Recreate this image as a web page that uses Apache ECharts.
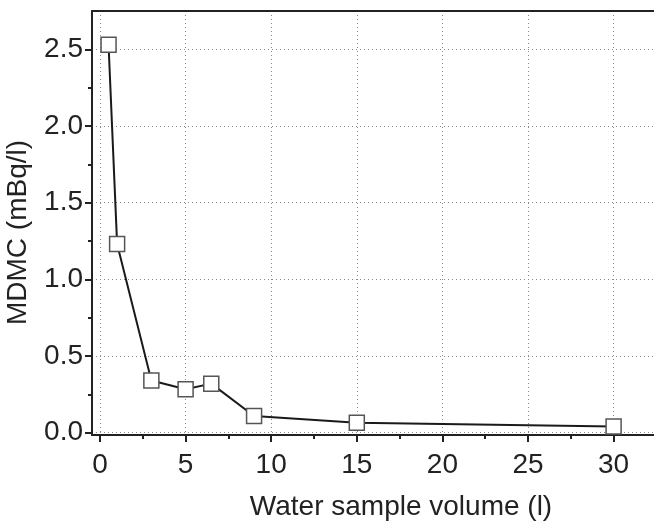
<!DOCTYPE html>
<html>
<head>
<meta charset="utf-8">
<script src="https://cdn.jsdelivr.net/npm/echarts@6/dist/echarts.min.js"></script>
<style>
  html, body { margin: 0; padding: 0; background: #fff; }
  #chart { width: 654px; height: 524px; }
</style>
</head>
<body>
<div id="chart"></div>
<script>
// sample volume (l) and minimum detectable MDMC (mBq/l)
const volumes = [0.5, 1, 3, 5, 6.5, 9, 15, 30];
const mdmc = [2.53, 1.23, 0.34, 0.283, 0.32, 0.109, 0.065, 0.04];

const xTicks = [0, 5, 10, 15, 20, 25, 30];
const xMinorTicks = [2.5, 7.5, 12.5, 17.5, 22.5, 27.5];
const yTicks = [0, 0.5, 1.0, 1.5, 2.0, 2.5];
const yMinorTicks = [0.25, 0.75, 1.25, 1.75, 2.25];

const font = 'Liberation Sans';
const ink = '#222';

const chart = echarts.init(document.getElementById('chart'));

const xRange = { min: -0.467, max: 32.36 };
const yRange = { min: -0.015, max: 2.75 };

const option = {
  backgroundColor: '#fff',
  animation: false,
  grid: {
    left: 92,
    right: 0,
    top: 11,
    bottom: 89,
    containLabel: false,
    outerBoundsMode: 'none',
  },
  xAxis: [
    {
      type: 'value',
      position: 'bottom',
      ...xRange,
      name: 'Water sample volume (l)',
      nameLocation: 'middle',
      nameGap: 58,
      nameTextStyle: {
        fontFamily: font,
        fontSize: 28,
        color: ink,
        padding: [0, 0, 0, 56],
      },
      axisLine: { onZero: false, lineStyle: { color: ink, width: 2 } },
      axisTick: { customValues: xTicks, length: 7, lineStyle: { color: ink, width: 2 } },
      axisLabel: {
        customValues: xTicks,
        margin: 16,
        fontFamily: font,
        fontSize: 28,
        color: ink,
      },
      splitLine: {
        show: true,
        lineStyle: { color: '#888', width: 1, type: [1, 3] },
      },
    },
    {
      // minor ticks
      type: 'value',
      position: 'bottom',
      ...xRange,
      axisLine: { show: false, onZero: false },
      axisTick: { customValues: xMinorTicks, length: 4, lineStyle: { color: ink, width: 2 } },
      axisLabel: { show: false },
      splitLine: { show: false },
    },
    {
      // top frame
      type: 'value',
      position: 'top',
      ...xRange,
      axisLine: { onZero: false, lineStyle: { color: ink, width: 2 } },
      axisTick: { show: false },
      axisLabel: { show: false },
      splitLine: { show: false },
    },
  ],
  yAxis: [
    {
      type: 'value',
      position: 'left',
      ...yRange,
      name: 'MDMC (mBq/l)',
      nameLocation: 'middle',
      nameGap: 60,
      nameTextStyle: {
        fontFamily: font,
        fontSize: 28,
        color: ink,
        padding: [0, 19, 0, 0],
      },
      axisLine: { show: true, onZero: false, lineStyle: { color: ink, width: 2 } },
      axisTick: { show: true, customValues: yTicks, length: 7, lineStyle: { color: ink, width: 2 } },
      axisLabel: {
        customValues: yTicks,
        margin: 9,
        fontFamily: font,
        fontSize: 28,
        color: ink,
        formatter: (v) => v.toFixed(1),
      },
      splitLine: {
        show: true,
        lineStyle: { color: '#888', width: 1, type: [1, 3] },
      },
    },
    {
      type: 'value',
      position: 'left',
      ...yRange,
      axisLine: { show: false, onZero: false },
      axisTick: { show: true, customValues: yMinorTicks, length: 4, lineStyle: { color: ink, width: 2 } },
      axisLabel: { show: false },
      splitLine: { show: false },
    },
  ],
  series: [
    {
      type: 'line',
      xAxisIndex: 0,
      yAxisIndex: 0,
      data: volumes.map((v, i) => [v, mdmc[i]]),
      symbol: 'rect',
      symbolSize: 15,
      showAllSymbol: true,
      lineStyle: { color: '#1a1a1a', width: 2 },
      itemStyle: { color: '#fff', borderColor: '#555', borderWidth: 1.5 },
    },
  ],
};

chart.setOption(option);
</script>
</body>
</html>
